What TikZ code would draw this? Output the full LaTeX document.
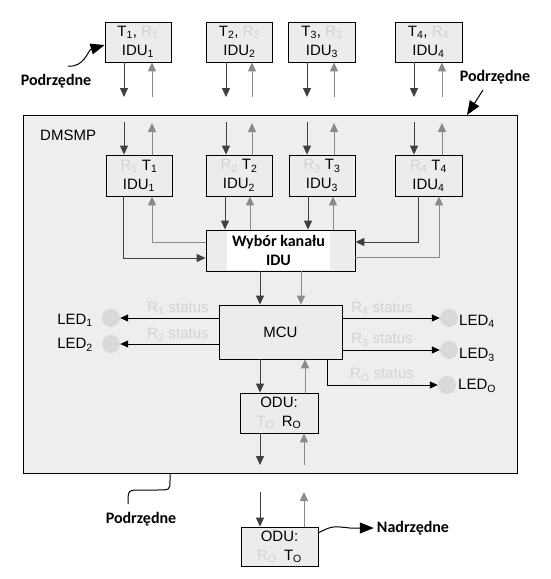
\documentclass[tikz,border=0pt]{standalone}
\usepackage{fontspec}
\setmainfont{Liberation Sans}
\newfontfamily\calib{Carlito}
\usetikzlibrary{arrows.meta}
\definecolor{boxfill}{HTML}{ECECEC}
\definecolor{bigfill}{HTML}{EEEEEE}
\definecolor{darkarr}{HTML}{404040}
\definecolor{grayarr}{HTML}{8A8A8A}
\definecolor{ghost}{HTML}{D2D2D2}
\definecolor{ledfill}{HTML}{D9D9D9}
\newcommand{\ssub}[1]{\textsubscript{#1}}
\newcommand{\gh}[1]{\textcolor{ghost}{#1}}
\begin{document}
\begin{tikzpicture}[x=1pt,y=-1pt,
  box/.style={draw=black, line width=0.8pt, fill=boxfill, inner sep=0pt, align=center, font=\fontsize{15}{19}\selectfont},
  darr/.style={draw=darkarr, line width=1pt, -{Triangle[length=9pt,width=8pt]}},
  garr/.style={draw=grayarr, line width=1pt, -{Triangle[length=9pt,width=8pt]}},
  larr/.style={draw=black, line width=1pt, -{Triangle[length=8pt,width=7pt]}},
  lbl/.style={font=\fontsize{15}{18}\selectfont, inner sep=0pt},
  stat/.style={font=\fontsize{15}{18}\selectfont, text=ghost, inner sep=0pt},
  boldtxt/.style={font=\calib\bfseries\fontsize{16}{19}\selectfont, inner sep=0pt},
  led/.style={circle, fill=ledfill, minimum size=18pt, inner sep=0pt},
  callout/.style={draw=black, line width=1pt, -{Triangle[length=14pt,width=11pt]}},
]
\useasboundingbox (0,0) rectangle (550,579);
\fill[white] (0,0) rectangle (550,579);
\node[draw=black, line width=0.8pt, fill=bigfill, minimum width=494pt, minimum height=358pt, anchor=north west, inner sep=0pt] (dmsmp) at (23,115) {};
\node[lbl, anchor=west] (dmsmpt) at (40,135) {DMSMP};

% top boxes
\node[box, minimum width=66pt, minimum height=40pt] (t1) at (138,42) {T\ssub{1}, \gh{R\ssub{1}}\\IDU\ssub{1}};
\node[box, minimum width=66pt, minimum height=40pt] (t2) at (239.5,42) {T\ssub{2}, \gh{R\ssub{2}}\\IDU\ssub{2}};
\node[box, minimum width=67pt, minimum height=40pt] (t3) at (322,42) {T\ssub{3}, \gh{R\ssub{3}}\\IDU\ssub{3}};
\node[box, minimum width=67pt, minimum height=40pt] (t4) at (428.5,42) {T\ssub{4}, \gh{R\ssub{4}}\\IDU\ssub{4}};

% inner boxes
\node[box, minimum width=66pt, minimum height=41pt] (i1) at (139,175.5) {\gh{R\ssub{1}} T\ssub{1}\\IDU\ssub{1}};
\node[box, minimum width=66pt, minimum height=41pt] (i2) at (239,175.5) {\gh{R\ssub{2}} T\ssub{2}\\IDU\ssub{2}};
\node[box, minimum width=66pt, minimum height=41pt] (i3) at (322,175.5) {\gh{R\ssub{3}} T\ssub{3}\\IDU\ssub{3}};
\node[box, minimum width=67pt, minimum height=41pt] (i4) at (428.5,175.5) {\gh{R\ssub{4}} T\ssub{4}\\IDU\ssub{4}};

% arrows top boxes <-> big box and big box <-> inner boxes
\foreach \n/\d/\u in {1/124/152, 2/226/252, 3/307/334, 4/414/442}{
  \coordinate (da\n) at (\d,97);
  \coordinate (ua\n) at (\u,97);
  \coordinate (db\n) at (\d,122);
  \coordinate (ub\n) at (\u,123);
  \draw[darr] (t\n.south -| da\n) -- (da\n);
  \draw[garr] (ua\n) -- (t\n.south -| ua\n);
  \draw[darr] (db\n) -- (i\n.north -| db\n);
  \draw[garr] (i\n.north -| ub\n) -- (ub\n);
}

% Wybor kanalu
\node[box, minimum width=149pt, minimum height=41pt] (wyb) at (280.5,250.5) {};
\node[fill=white, minimum width=103pt, minimum height=39pt, inner sep=0pt, boldtxt, align=center] (wybt) at (278.5,250.5) {Wybór kanału\\IDU};

% inner boxes -> Wybor
\coordinate (k1) at (123,258);
\coordinate (k2) at (152,242);
\draw[darr] (i1.south -| k1) |- (wyb.west |- k1);
\draw[garr] (wyb.west |- k2) -| (i1.south -| k2);
\foreach \n/\d/\u in {2/225/250, 3/308/333}{
  \coordinate (p\n) at (\d,0);
  \coordinate (q\n) at (\u,0);
  \draw[darr] (i\n.south -| p\n) -- (wyb.north -| p\n);
  \draw[garr] (wyb.north -| q\n) -- (i\n.south -| q\n);
}
\coordinate (k3) at (418,242);
\coordinate (k4) at (439,257);
\draw[darr] (i4.south -| k3) |- (wyb.east |- k3);
\draw[garr] (wyb.east |- k4) -| (i4.south -| k4);

% MCU
\node[box, minimum width=123pt, minimum height=54pt] (mcu) at (280.5,332) {MCU};
\coordinate (m1) at (260,0);
\coordinate (m2) at (301,0);
\draw[darr] (wyb.south -| m1) -- (mcu.north -| m1);
\draw[garr] (wyb.south -| m2) -- (mcu.north -| m2);

% ODU inside
\node[box, minimum width=78pt, minimum height=40pt] (odu1) at (279,413) {ODU:\\\gh{T\ssub{O}}\enspace R\ssub{O}};
\coordinate (o1) at (260,0);
\coordinate (o2) at (305,0);
\draw[darr] (mcu.south -| o1) -- (odu1.north -| o1);
\draw[garr] (odu1.north -| o2) -- (mcu.south -| o2);
\coordinate (e1) at (260,465);
\coordinate (e2) at (304,465);
\draw[darr] (odu1.south -| e1) -- (e1);
\draw[garr] (e2) -- (odu1.south -| e2);

% ODU outside
\node[box, minimum width=77pt, minimum height=39pt] (odu2) at (279.5,546.5) {ODU:\\\gh{R\ssub{O}}\enspace T\ssub{O}};
\coordinate (f1) at (260,492);
\coordinate (f2) at (304,492);
\draw[darr] (f1) -- (odu2.north -| f1);
\draw[garr] (odu2.north -| f2) -- (f2);

% LEDs left
\node[led] (led1) at (111,318) {};
\node[led] (led2) at (111,344) {};
\node[lbl, anchor=east] (led1t) at (93,320) {LED\ssub{1}};
\node[lbl, anchor=east] (led2t) at (93,345) {LED\ssub{2}};
\draw[larr] (mcu.west |- led1) -- (led1.east);
\draw[larr] (mcu.west |- led2) -- (led2.east);
\node[stat] (s1) at (178,308) {R\ssub{1} status};
\node[stat] (s2) at (178,335) {R\ssub{2} status};

% LEDs right
\node[led] (led4) at (449,318) {};
\node[led] (led3) at (449,350) {};
\node[led] (ledo) at (447,385) {};
\node[lbl, anchor=west] (led4t) at (459,321) {LED\ssub{4}};
\node[lbl, anchor=west] (led3t) at (459,355) {LED\ssub{3}};
\node[lbl, anchor=west] (ledot) at (458,386) {LED\ssub{O}};
\draw[larr] (mcu.east |- led4) -- (led4.west);
\draw[larr] (mcu.east |- led3) -- (led3.west);
\coordinate (lo) at (327,0);
\draw[larr] (mcu.south -| lo) |- (ledo.west);
\node[stat] (s4) at (382,308) {R\ssub{4} status};
\node[stat] (s3) at (382,340) {R\ssub{3} status};
\node[stat] (so) at (382,375) {R\ssub{O} status};

% callouts
\node[boldtxt] (pod1) at (56,81) {Podrzędne};
\coordinate (c1) at (68,66);
\draw[callout] (c1) .. controls (84,68) and (88,50) .. ([yshift=-3pt]t1.west);
\node[boldtxt] (pod2) at (495,77) {Podrzędne};
\coordinate (c2) at (483,90);
\coordinate (c3) at (467,115);
\draw[callout] (c2) -- (c3);
\node[boldtxt] (pod3) at (141,519) {Podrzędne};
\coordinate (c4) at (170,473);
\coordinate (c5) at (128,504);
\draw[line width=1pt] (c4) -- ++(0,8) .. controls (170,490) .. (156,490) -- (141,490) .. controls (128,490) .. (c5);
\node[boldtxt] (nad) at (413,528) {Nadrzędne};
\coordinate (c6) at (318,533);
\draw[callout] (c6) .. controls (332,526) .. (350,528) -- ([xshift=-3pt]nad.west);
\end{tikzpicture}
\end{document}
